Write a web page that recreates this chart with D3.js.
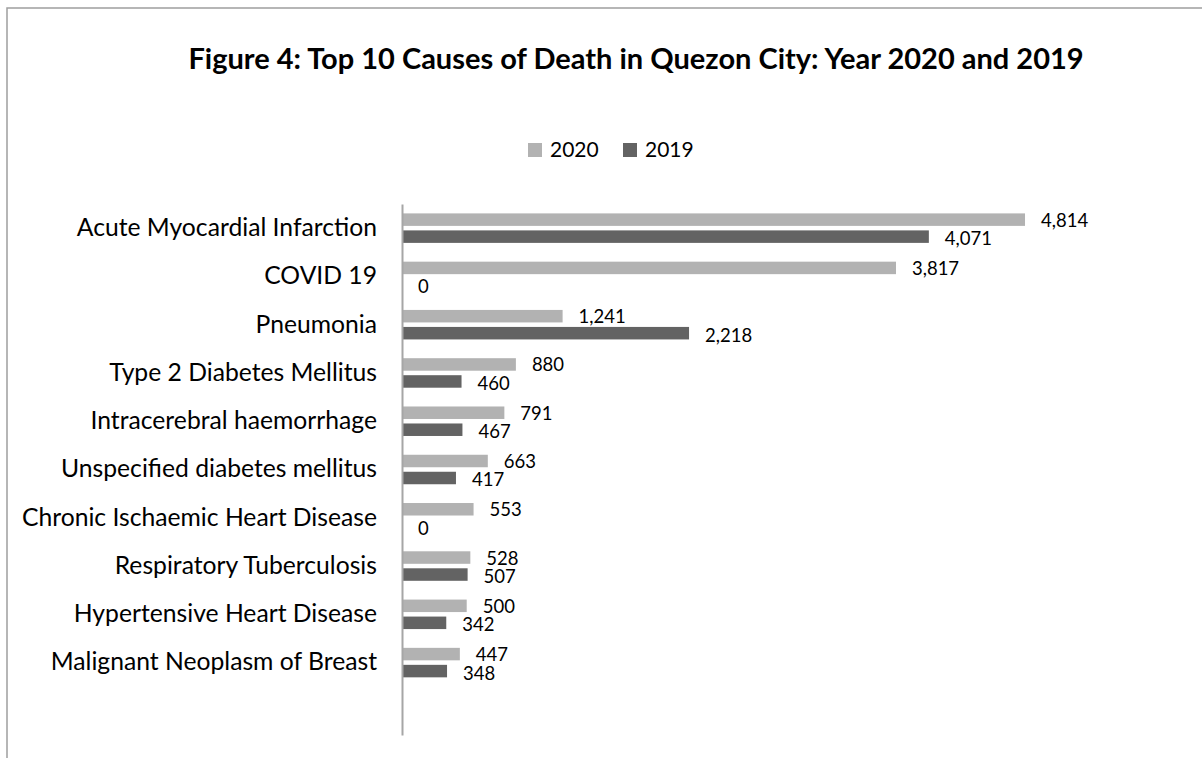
<!DOCTYPE html>
<html>
<head>
<meta charset="utf-8">
<script src="https://cdn.jsdelivr.net/npm/d3@7"></script>
<style>
  html, body { margin: 0; padding: 0; background: #fff; }
  svg { display: block; font-family: Lato, "Open Sans", sans-serif; }
</style>
</head>
<body>
<svg id="chart" width="1202" height="758"></svg>
<script>
// source rows, top to bottom (the sheet had one blank row at the end)
const categories = [
  "Acute Myocardial Infarction",
  "COVID 19",
  "Pneumonia",
  "Type 2 Diabetes Mellitus",
  "Intracerebral haemorrhage",
  "Unspecified diabetes mellitus",
  "Chronic Ischaemic Heart Disease",
  "Respiratory Tuberculosis",
  "Hypertensive Heart Disease",
  "Malignant Neoplasm of Breast",
  ""
];
const seriesNames = ["2020", "2019"];
const values2020 = [4814, 3817, 1241, 880, 791, 663, 553, 528, 500, 447];
const values2019 = [4071, 0, 2218, 460, 467, 417, 0, 507, 342, 348];
const seriesColors = ["#b2b2b2", "#636363"];

const svg = d3.select("#chart");
const fmt = d3.format(",");

// chart frame (cut off at right and bottom like the original)
svg.append("rect")
  .attr("x", 7).attr("y", 8)
  .attr("width", 1400).attr("height", 900)
  .attr("fill", "none")
  .attr("stroke", "#9f9f9f")
  .attr("stroke-width", 1.5);

svg.append("text")
  .attr("x", 636).attr("y", 69)
  .attr("text-anchor", "middle")
  .attr("font-size", 29).attr("font-weight", "bold")
  .attr("fill", "#000")
  .text("Figure 4: Top 10 Causes of Death in Quezon City: Year 2020 and 2019");

// legend
const legend = svg.append("g");
const legendX = [528, 623];
seriesNames.forEach((name, i) => {
  legend.append("rect")
    .attr("x", legendX[i]).attr("y", 143)
    .attr("width", 14).attr("height", 14)
    .attr("fill", seriesColors[i]);
  legend.append("text")
    .attr("x", legendX[i] + 22).attr("y", 150)
    .attr("dy", "0.35em")
    .attr("font-size", 21)
    .attr("fill", "#000")
    .text(name);
});

const x = d3.scaleLinear().domain([0, 6000]).range([402, 1178.5]);
const y = d3.scaleBand().domain(categories).range([204, 735])
  .paddingInner(0.389).paddingOuter(0.1945);
const ySub = d3.scaleBand().domain(seriesNames).range([0, y.bandwidth()]).paddingInner(0.265);

const rows = categories.slice(0, values2020.length).map((c, i) => ({
  category: c,
  values: [
    { series: "2020", value: values2020[i] },
    { series: "2019", value: values2019[i] }
  ]
}));

const groups = svg.append("g").selectAll("g")
  .data(rows)
  .join("g")
  .attr("transform", d => `translate(0,${y(d.category)})`);

groups.selectAll("rect")
  .data(d => d.values)
  .join("rect")
  .attr("x", x(0))
  .attr("y", d => ySub(d.series))
  .attr("width", d => x(d.value) - x(0))
  .attr("height", ySub.bandwidth())
  .attr("fill", d => seriesColors[seriesNames.indexOf(d.series)]);

groups.selectAll("text.val")
  .data(d => d.values)
  .join("text")
  .attr("class", "val")
  .attr("x", d => x(d.value) + 16)
  .attr("y", d => ySub(d.series) + ySub.bandwidth() / 2 + (d.series === "2020" ? 0.5 : 2))
  .attr("dy", "0.35em")
  .attr("font-size", 18.5)
  .attr("fill", "#000")
  .text(d => fmt(d.value));

// category axis
const yAxis = svg.append("g")
  .attr("transform", `translate(${x(0)},0)`)
  .call(d3.axisLeft(y).tickSize(0).tickPadding(25));
yAxis.select(".domain").attr("stroke", "#a6a6a6").attr("stroke-width", 2);
yAxis.selectAll("text")
  .attr("font-size", 24.7)
  .attr("font-family", "Lato, 'Open Sans', sans-serif")
  .attr("fill", "#000");
</script>
</body>
</html>
